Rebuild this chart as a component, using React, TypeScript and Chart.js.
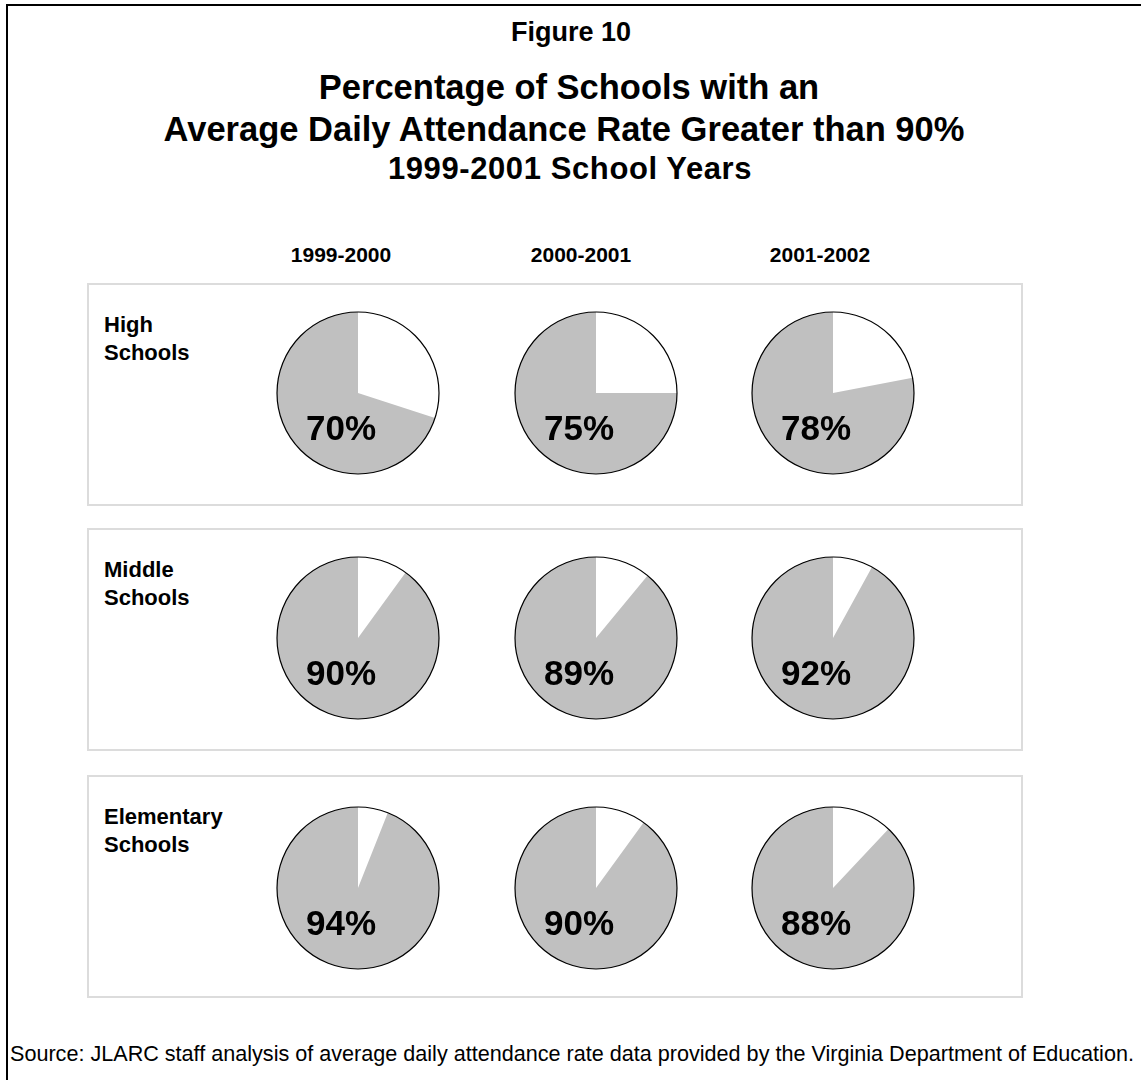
import React, { useEffect, useRef } from "react";
import { Chart, registerables } from "chart.js";

Chart.register(...registerables);

// ---- Data ----
const schoolYears = ["1999-2000", "2000-2001", "2001-2002"];
const schoolTypes = [
  ["High", "Schools"],
  ["Middle", "Schools"],
  ["Elementary", "Schools"],
];
const highSchools = [70, 75, 78];
const middleSchools = [90, 89, 92];
const elementarySchools = [94, 90, 88];
const seriesByType = [highSchools, middleSchools, elementarySchools];

// ---- Layout ----
const FONT = '"Liberation Sans", Arial, Helvetica, sans-serif';
const PIE_X = [358, 596, 833];
const PIE_Y = [393, 638, 888];
const HEADER_X = [341, 581, 820];
const PANEL_TOP = [283, 528, 775];
const PANEL_H = 223;
const SIZE = 200;
const PAD = 19;

function Text({ x, baseline, size, bold, align, spacing, children }: any) {
  const top = baseline - 0.8465 * size;
  const style: React.CSSProperties = {
    position: "absolute",
    top,
    fontFamily: FONT,
    fontSize: size,
    lineHeight: `${size}px`,
    fontWeight: bold ? "bold" : "normal",
    whiteSpace: "nowrap",
    color: "#000",
    letterSpacing: spacing ? `${spacing}px` : undefined,
  };
  if (align === "center") {
    style.left = x - 600;
    style.width = 1200;
    style.textAlign = "center";
  } else {
    style.left = x;
  }
  return <div style={style}>{children}</div>;
}

function Pie({ value, cx, cy }: { value: number; cx: number; cy: number }) {
  const ref = useRef<HTMLCanvasElement>(null);
  useEffect(() => {
    const outline = {
      id: "outlineAndLabel",
      afterDatasetsDraw(chart: any) {
        const arc: any = chart.getDatasetMeta(0).data[0];
        const { x, y, outerRadius } = arc;
        const ctx = chart.ctx;
        ctx.save();
        ctx.beginPath();
        ctx.arc(x, y, outerRadius, 0, Math.PI * 2);
        ctx.lineWidth = 1.2;
        ctx.strokeStyle = "#000";
        ctx.stroke();
        ctx.font = `bold 35px ${FONT}`;
        ctx.fillStyle = "#000";
        ctx.textAlign = "center";
        ctx.textBaseline = "alphabetic";
        ctx.fillText(`${value}%`, x - 17, y + 47);
        ctx.restore();
      },
    };
    const chart = new Chart(ref.current!, {
      type: "pie",
      data: {
        labels: ["90% or below", "Greater than 90%"],
        datasets: [
          {
            data: [100 - value, value],
            backgroundColor: ["#ffffff", "#c0c0c0"],
            borderWidth: 0,
            hoverOffset: 0,
            offset: 0,
          },
        ],
      },
      options: {
        responsive: false,
        animation: false,
        events: [],
        layout: { padding: PAD },
        plugins: { legend: { display: false }, tooltip: { enabled: false } },
      },
      plugins: [outline],
    } as any);
    return () => chart.destroy();
  }, [value]);
  return (
    <canvas
      ref={ref}
      width={SIZE}
      height={SIZE}
      style={{ position: "absolute", left: cx - SIZE / 2, top: cy - SIZE / 2, width: SIZE, height: SIZE }}
    />
  );
}

export default function App() {
  return (
    <div style={{ position: "absolute", left: 0, top: 0, width: 1141, height: 1080, background: "#fff", overflow: "hidden" }}>
      <div
        style={{
          position: "absolute",
          left: 6,
          top: 4,
          width: 1135,
          height: 1076,
          borderTop: "2px solid #000",
          borderLeft: "2px solid #000",
          boxSizing: "border-box",
        }}
      />
      <Text x={571} baseline={42} size={27} bold align="center">Figure 10</Text>
      <Text x={569} baseline={99} size={34.5} bold align="center">Percentage of Schools with an</Text>
      <Text x={564} baseline={141} size={34.5} bold align="center">Average Daily Attendance Rate Greater than 90%</Text>
      <Text x={570} baseline={179} size={31} bold align="center" spacing={0.6}>1999-2001 School Years</Text>

      {schoolYears.map((y, i) => (
        <Text key={y} x={HEADER_X[i]} baseline={262} size={21} bold align="center">{y}</Text>
      ))}

      {PANEL_TOP.map((t, r) => (
        <div
          key={`panel${r}`}
          style={{
            position: "absolute",
            left: 87,
            top: t,
            width: 936,
            height: PANEL_H,
            border: "2px solid #dcdcdc",
            boxSizing: "border-box",
          }}
        />
      ))}

      {schoolTypes.map((lines, r) =>
        lines.map((ln, k) => (
          <Text key={`lab${r}${k}`} x={104} baseline={PANEL_TOP[r] + 50 + k * 28} size={22} bold>
            {ln}
          </Text>
        ))
      )}

      {seriesByType.map((series, r) =>
        series.map((v, c) => <Pie key={`pie${r}${c}`} value={v} cx={PIE_X[c]} cy={PIE_Y[r]} />)
      )}

      <Text x={10} baseline={1061} size={21.6}>
        Source: JLARC staff analysis of average daily attendance rate data provided by the Virginia Department of Education.
      </Text>
    </div>
  );
}
